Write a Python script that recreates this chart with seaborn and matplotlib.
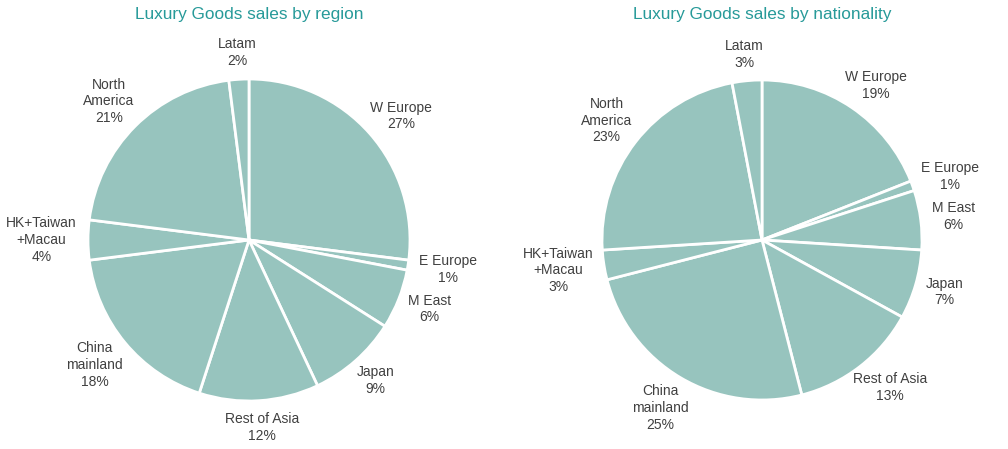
import numpy as np
import pandas as pd
import seaborn as sns
import matplotlib.pyplot as plt

# slice order: clockwise from 12 o'clock
regions = ['W Europe', 'E Europe', 'M East', 'Japan', 'Rest of Asia',
           'China\nmainland', 'HK+Taiwan\n+Macau', 'North\nAmerica', 'Latam']
by_region = [27, 1, 6, 9, 12, 18, 4, 21, 2]
by_nationality = [19, 1, 6, 7, 13, 25, 3, 23, 3]

sns.set_theme(style="white")
plt.rcParams['font.family'] = ['Liberation Sans', 'DejaVu Sans']

pie_color = '#97c4be'
title_color = '#279a99'
text_color = '#404040'

W, H = 1008, 449
fig = plt.figure(figsize=(W / 100, H / 100), dpi=100)
ax = fig.add_axes([0, 0, 1, 1])
ax.set_xlim(0, W)
ax.set_ylim(0, H)

panels = [
    ("Luxury Goods sales by region", by_region, 249, 161),
    ("Luxury Goods sales by nationality", by_nationality, 762, 160),
]

all_texts = []
for title, values, cx, r in panels:
    cy = H - 240
    labels = [f"{n}\n{v}%" for n, v in zip(regions, values)]
    wedges, texts = ax.pie(values, labels=labels, startangle=90, counterclock=False,
                           colors=[pie_color] * len(values), center=(cx, cy), radius=r,
                           labeldistance=1.07,
                           wedgeprops=dict(edgecolor='white', linewidth=2),
                           textprops=dict(color=text_color, fontsize=10))
    for w, t in zip(wedges, texts):
        t.set_ha('center')
        t.set_va('center')
        t.set_multialignment('center')
        t.set_linespacing(1.25)
        all_texts.append((w, t))
    fig.text(cx / W, 1 - 15 / H, title, ha='center', va='center',
             color=title_color, fontsize=12.4)

ax.set_xlim(0, W)
ax.set_ylim(0, H)
ax.set_aspect('equal')
ax.axis('off')

# push each label outwards so its box (not its centre) sits at the label distance
fig.canvas.draw()
renderer = fig.canvas.get_renderer()
for w, t in all_texts:
    theta = np.deg2rad((w.theta1 + w.theta2) / 2)
    bb = t.get_window_extent(renderer)
    x, y = t.get_position()
    t.set_position((x + bb.width / 2 * np.cos(theta), y + bb.height / 2 * np.sin(theta)))

fig.savefig('out.png', dpi=100, facecolor='white')
